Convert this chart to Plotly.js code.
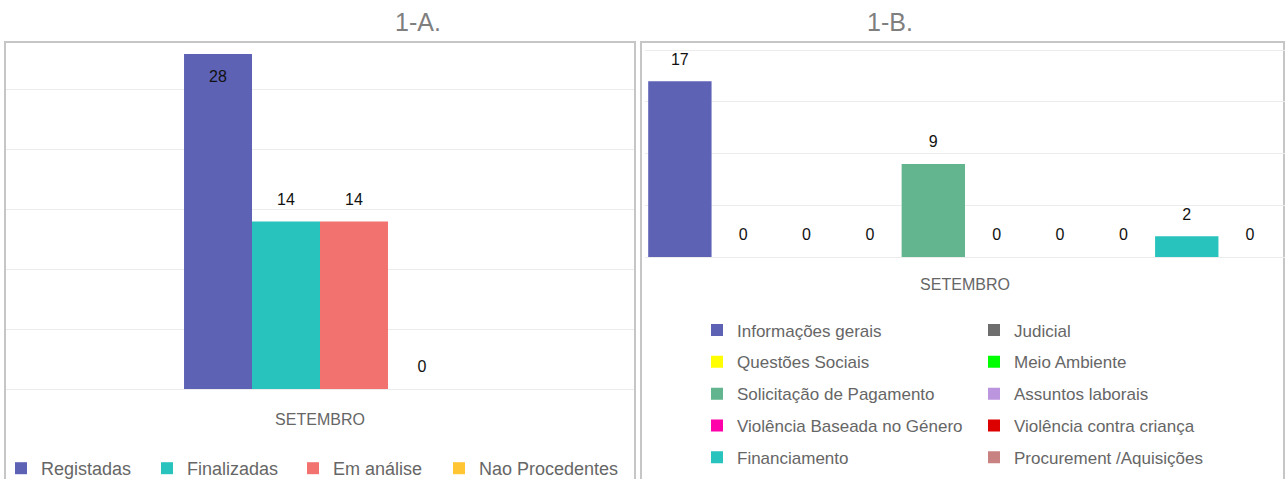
<!DOCTYPE html>
<html>
<head>
<meta charset="utf-8">
<script src="https://cdn.plot.ly/plotly-3.0.1.min.js"></script>
<style>html,body{margin:0;padding:0;overflow:hidden;background:#fff}</style>
</head>
<body>
<div id="chart" style="width:1287px;height:490px"></div>
<script>
// ---- data ----
const months = ['SETEMBRO'];
const seriesA = ['Registadas', 'Finalizadas', 'Em análise', 'Nao Procedentes'];
const valuesA = [28, 14, 14, 0];
const seriesB = ['Informações gerais', 'Judicial', 'Questões Sociais', 'Meio Ambiente',
  'Solicitação de Pagamento', 'Assuntos laborais', 'Violência Baseada no Género',
  'Violência contra criança', 'Financiamento', 'Procurement /Aquisições'];
const valuesB = [17, 0, 0, 0, 9, 0, 0, 0, 2, 0];
const titles = ['1-A.', '1-B.'];

// ---- styles ----
const colorsA = ['#5d62b5', '#29c3be', '#f2726f', '#ffc533'];
const colorsB = ['#5d62b5', '#6e6e6e', '#ffff00', '#00ff00', '#62b58f',
  '#bc95df', '#ff00aa', '#dd0000', '#29c3be', '#c98282'];

const W = 1287, H = 490;
const px = v => v / W, py = v => 1 - v / H;
const FONT = '"Liberation Sans", Arial, sans-serif';

// value labels: a tiny spacer line gives extra padding between label and bar
const SP = '<span style="font-size:1px">\u00a0</span>';
const NUM = '<span style="font-size:16px">%{y}</span>';
const outsideLabel = {texttemplate: NUM + '<br>' + SP, textposition: 'outside',
  textfont: {family: FONT, size: 10.5, color: '#111'}};
const insideLabel = {texttemplate: SP + '<br>' + NUM, textposition: 'inside', insidetextanchor: 'end',
  textfont: {family: FONT, size: 18.3, color: '#111'}};

const traces = [];
const maxA = Math.max(...valuesA);
seriesA.forEach((name, i) => {
  // the tallest bar has no room above it, so its label sits inside
  const lab = valuesA[i] === maxA ? insideLabel : outsideLabel;
  traces.push(Object.assign({
    type: 'bar', name: name, x: months, y: [valuesA[i]],
    xaxis: 'x', yaxis: 'y', legend: 'legend',
    marker: {color: colorsA[i]}, cliponaxis: false,
    legendwidth: i === seriesA.length - 1 ? 160 : undefined
  }, lab));
});
seriesB.forEach((name, i) => {
  traces.push(Object.assign({
    type: 'bar', name: name, x: months, y: [valuesB[i]],
    xaxis: 'x2', yaxis: 'y2',
    legend: i % 2 === 0 ? 'legend2' : 'legend3',
    legendgroup: 'g' + i,
    marker: {color: colorsB[i]}, cliponaxis: false
  }, outsideLabel));
});

const gridCol = '#ececec';
const tickFont = {family: FONT, size: 16, color: '#666'};

const layout = {
  width: W, height: H,
  margin: {l: 0, r: 0, t: 0, b: 0},
  paper_bgcolor: '#fff', plot_bgcolor: 'rgba(0,0,0,0)',
  barmode: 'group', bargap: 0.01, bargroupgap: 0,
  font: {family: FONT},
  showlegend: true,
  xaxis: {domain: [px(6), px(634)], anchor: 'y', type: 'category', range: [-1.143, 1.143],
    showgrid: false, zeroline: false, showline: false, ticks: '',
    tickfont: tickFont, ticklabelstandoff: 19, fixedrange: true},
  yaxis: {domain: [py(389), py(42)], anchor: 'x', range: [0, 29], dtick: 5, tick0: 0,
    showticklabels: false, gridcolor: gridCol, zeroline: true, zerolinecolor: gridCol,
    zerolinewidth: 1, showline: false, fixedrange: true},
  xaxis2: {domain: [px(645), px(1285)], anchor: 'y2', type: 'category', range: [-0.5, 0.5],
    showgrid: false, zeroline: false, showline: false, ticks: '',
    tickfont: tickFont, ticklabelstandoff: 16, fixedrange: true},
  yaxis2: {domain: [py(257), py(42)], anchor: 'x2', range: [0, 20.8], dtick: 5, tick0: 0,
    showticklabels: false, gridcolor: gridCol, zeroline: true, zerolinecolor: gridCol,
    zerolinewidth: 1, showline: false, fixedrange: true},
  legend: {orientation: 'h', x: px(1), xanchor: 'left', y: py(450), yanchor: 'top',
    font: {family: FONT, size: 18, color: '#666'}, entrywidth: 101, bgcolor: 'rgba(0,0,0,0)'},
  legend2: {orientation: 'v', x: px(697), xanchor: 'left', y: py(312.5), yanchor: 'top',
    font: {family: FONT, size: 17, color: '#666'}, traceorder: 'grouped', tracegroupgap: 6.7,
    bgcolor: 'rgba(0,0,0,0)'},
  legend3: {orientation: 'v', x: px(974), xanchor: 'left', y: py(312.5), yanchor: 'top',
    font: {family: FONT, size: 17, color: '#666'}, traceorder: 'grouped', tracegroupgap: 6.7,
    bgcolor: 'rgba(0,0,0,0)'},
  shapes: [
    {type: 'rect', xref: 'paper', yref: 'paper', x0: px(5), x1: px(635), y0: py(H + 10), y1: py(42),
      line: {color: '#c6c6c6', width: 2}, fillcolor: 'rgba(0,0,0,0)', layer: 'below'},
    {type: 'rect', xref: 'paper', yref: 'paper', x0: px(641), x1: px(1284), y0: py(H + 10), y1: py(42),
      line: {color: '#c6c6c6', width: 2}, fillcolor: 'rgba(0,0,0,0)', layer: 'below'}
  ],
  annotations: [
    {text: titles[0], xref: 'paper', yref: 'paper', x: px(418), y: py(22), xanchor: 'center',
      yanchor: 'middle', showarrow: false, font: {family: FONT, size: 25, color: '#7f7f7f'}},
    {text: titles[1], xref: 'paper', yref: 'paper', x: px(890), y: py(22), xanchor: 'center',
      yanchor: 'middle', showarrow: false, font: {family: FONT, size: 25, color: '#7f7f7f'}}
  ]
};

Plotly.newPlot('chart', traces, layout, {displayModeBar: false});
</script>
</body>
</html>
